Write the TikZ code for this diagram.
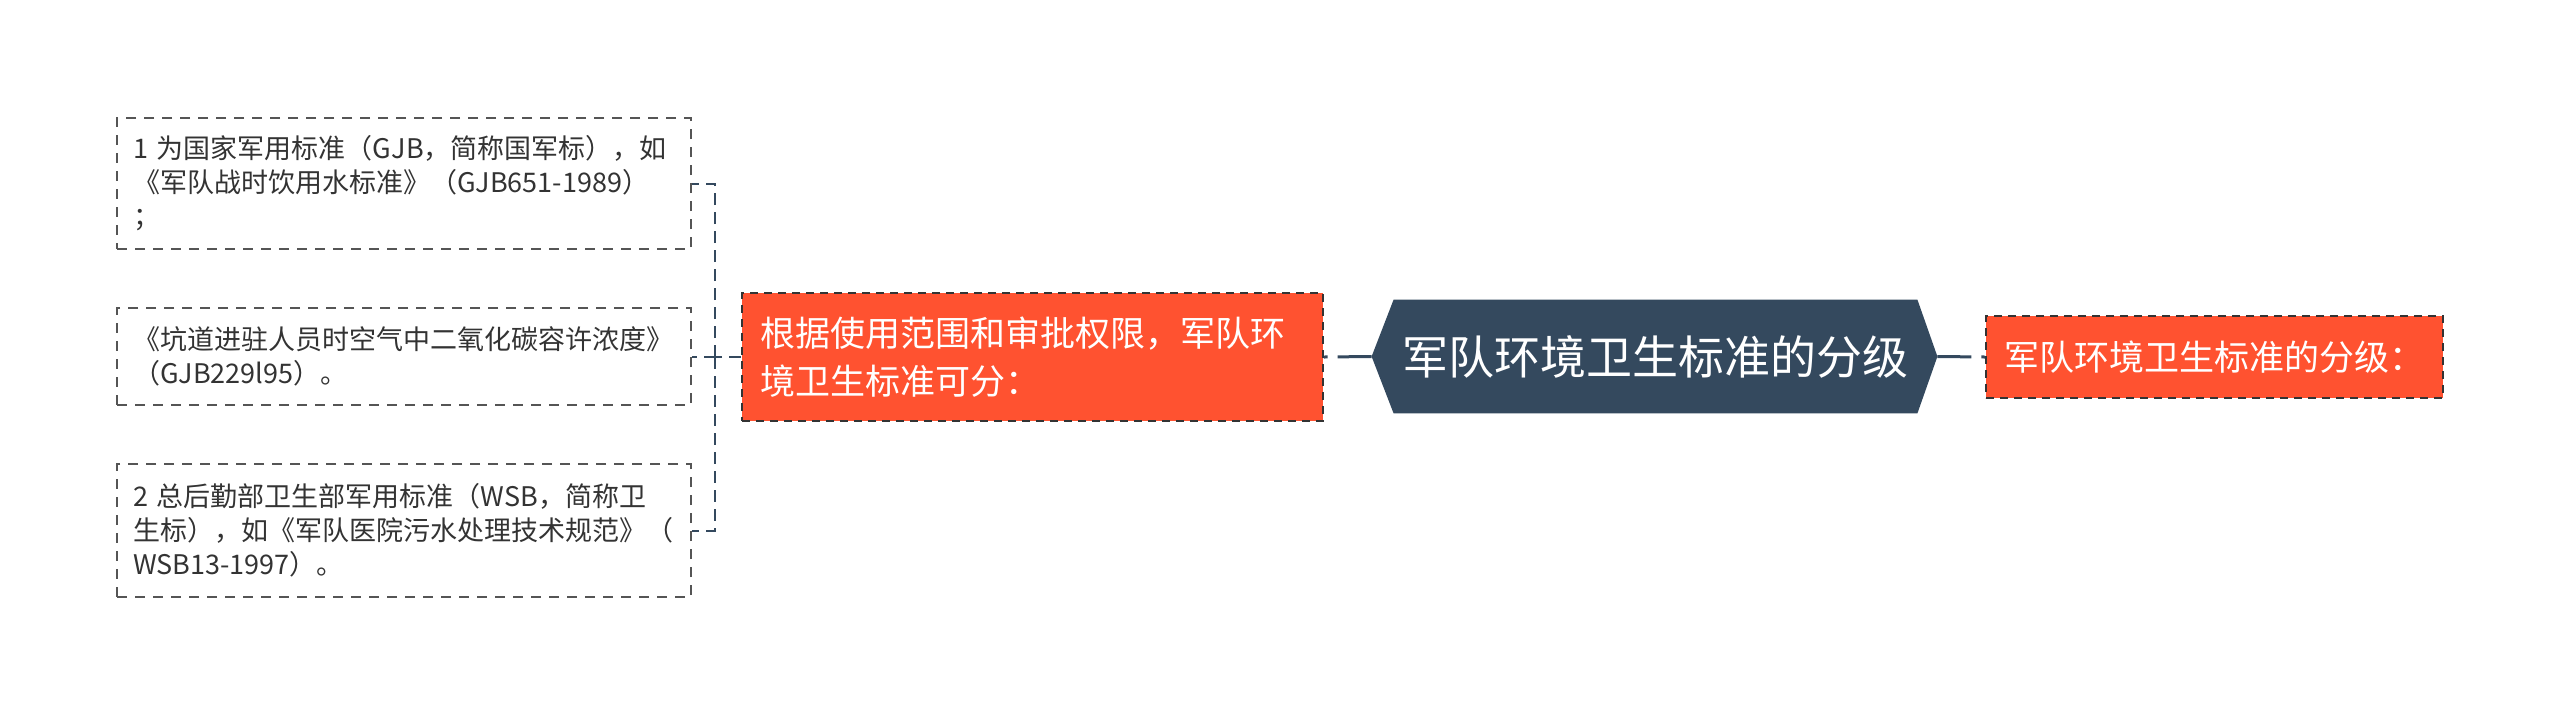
\documentclass[tikz,border=0pt]{standalone}
\usepackage{fontspec}
\setmainfont{Noto Sans CJK SC}
\usepackage{xcolor}
\usetikzlibrary{positioning,backgrounds}

\definecolor{rootcol}{HTML}{34495E}
\definecolor{subcol}{HTML}{FF5230}
\definecolor{leafline}{HTML}{555555}
\definecolor{leaftext}{HTML}{333333}

\tikzset{
  rootnode/.style={rectangle, minimum width=261.5pt, minimum height=56.5pt,
    inner sep=0pt, text=white, font=\fontsize{23}{28}\selectfont},
  subnode/.style={rectangle, fill=subcol, draw=leaftext, line width=0.9pt,
    dash pattern=on 4pt off 3pt, text=white, align=left, inner ysep=0pt},
  leafnode/.style={rectangle, draw=leafline, line width=0.8pt,
    dash pattern=on 5pt off 4pt, text=leaftext, align=left,
    text width=271pt, inner xsep=8pt, inner ysep=0pt,
    font=\fontsize{13.5}{17}\selectfont},
  mainlink/.style={draw=rootcol, line width=1.5pt, dash pattern=on 17pt off 5pt},
  leaflink/.style={draw=rootcol, line width=1pt, dash pattern=on 6pt off 3.5pt},
}

\begin{document}
\begin{tikzpicture}[x=0.5pt, y=-0.5pt]
    \useasboundingbox (0,0) rectangle (2560,714);

    % Central topic
    \node[rootnode] (root) at (1655.5,356.5) {军队环境卫生标准的分级};
    \begin{scope}[on background layer]
        \fill[rootcol] (root.north west) -- (root.north east)
            -- ([xshift=10pt]root.east) -- (root.south east)
            -- (root.south west) -- ([xshift=-11pt]root.west) -- cycle;
    \end{scope}

    % Right and left branches
    \node[subnode, text width=210.5pt, inner xsep=9pt, minimum height=41pt,
        font=\fontsize{17.5}{22}\selectfont] (sum) at (2214.5,357)
        {军队环境卫生标准的分级：};
    \node[subnode, text width=272.5pt, inner xsep=9pt, minimum height=64pt,
        font=\fontsize{17.5}{24}\selectfont] (kind) at (1032.5,357)
        {根据使用范围和审批权限，军队环\\境卫生标准可分：};

    % Leaves
    \node[leafnode, minimum height=65.5pt] (gjb) at (404,183.5)
        {1 为国家军用标准（GJB，简称国军标），如\\《军队战时饮用水标准》（GJB651-1989）\\；};
    \node[leafnode, minimum height=48.5pt] (tunnel) at (404,356.5)
        {《坑道进驻人员时空气中二氧化碳容许浓度》\\（GJB229l95）。};
    \node[leafnode, minimum height=66.5pt] (wsb) at (404,530.5)
        {2 总后勤部卫生部军用标准（WSB，简称卫\\生标），如《军队医院污水处理技术规范》（\\WSB13-1997）。};

    % Connectors
    \draw[mainlink] ([xshift=-11pt]root.west) -- (kind.east);
    \draw[mainlink] ([xshift=10pt]root.east) -- (sum.west);

    \coordinate (fork) at ([xshift=-13pt]kind.west);
    \draw[leaflink] (kind.west) -- (fork);
    \foreach \leaf in {gjb,tunnel,wsb}
        \draw[leaflink] (fork) |- (\leaf.east);
\end{tikzpicture}
\end{document}
